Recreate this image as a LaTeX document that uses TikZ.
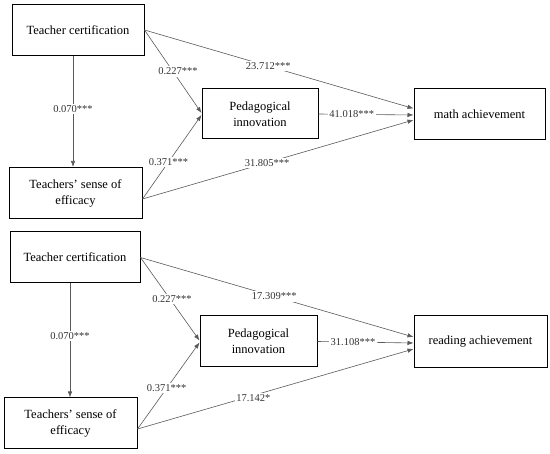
\documentclass[tikz,border=0pt]{standalone}
\usepackage{fontspec}
\setmainfont{Liberation Serif}
\usetikzlibrary{positioning, arrows.meta}

\begin{document}
\begin{tikzpicture}[
  x=1pt, y=-1pt,
  var/.style={draw, line width=1pt, minimum height=51pt, align=center,
              inner sep=2pt, font=\fontsize{12.5}{16}\selectfont},
  coef/.style={fill=white, inner sep=1.5pt, text=black!80,
               font=\fontsize{10.5}{12}\selectfont},
  arr/.style={-{Latex[length=6pt,width=4.5pt]}, draw=black!65, line width=0.6pt}
]
\useasboundingbox (0,0) rectangle (550,454);

\node[var, minimum width=132pt] (tcm) at (78,30) {Teacher certification};
\node[var, minimum width=133pt] (tsm) at (75.5,193) {Teachers’ sense of\\efficacy};
\node[var, minimum width=116pt, minimum height=50pt] (pedm) at (260,114) {Pedagogical\\innovation};
\node[var, minimum width=131pt] (math) at (479.5,114.5) {math achievement};

\draw[arr] ([xshift=-5pt]tcm.south) -- ([xshift=-5pt]tcm.south |- tsm.north)
  node[coef, pos=0.48] {0.070***};
\draw[arr] (tcm.east) -- ([yshift=1pt]pedm.west)
  node[coef, pos=0.5, xshift=5pt] {0.227***};
\draw[arr] ([yshift=-6pt]tsm.east) -- ([yshift=-1pt]pedm.west)
  node[coef, pos=0.44] {0.371***};
\draw[arr] (tcm.east) -- ([yshift=6pt]math.west)
  node[coef, pos=0.46] {23.712***};
\draw[arr] (pedm.east) -- ([yshift=-0.5pt]math.west)
  node[coef, pos=0.35] {41.018***};
\draw[arr] ([yshift=-6pt]tsm.east) -- ([yshift=-5.5pt]math.west)
  node[coef, pos=0.46] {31.805***};

\node[var, minimum width=130pt] (tcr) at (75,257.5) {Teacher certification};
\node[var, minimum width=133pt] (tsr) at (70.5,423.5) {Teachers’ sense of\\efficacy};
\node[var, minimum width=117pt] (pedr) at (258.5,341.5) {Pedagogical\\innovation};
\node[var, minimum width=133pt, minimum height=52pt] (read) at (480.5,342) {reading achievement};

\draw[arr] ([xshift=-5pt]tcr.south) -- ([xshift=-5pt]tcr.south |- tsr.north)
  node[coef, pos=0.46] {0.070***};
\draw[arr] (tcr.east) -- ([yshift=1pt]pedr.west)
  node[coef, pos=0.5, xshift=2pt] {0.227***};
\draw[arr] ([yshift=-5.5pt]tsr.east) -- ([yshift=-1pt]pedr.west)
  node[coef, pos=0.47] {0.371***};
\draw[arr] (tcr.east) -- ([yshift=5pt]read.west)
  node[coef, pos=0.49] {17.309***};
\draw[arr] (pedr.east) -- ([yshift=-1pt]read.west)
  node[coef, pos=0.37] {31.108***};
\draw[arr] ([yshift=-5.5pt]tsr.east) -- ([yshift=-7pt]read.west)
  node[coef, pos=0.42, yshift=-3pt] {17.142*};
\end{tikzpicture}
\end{document}
